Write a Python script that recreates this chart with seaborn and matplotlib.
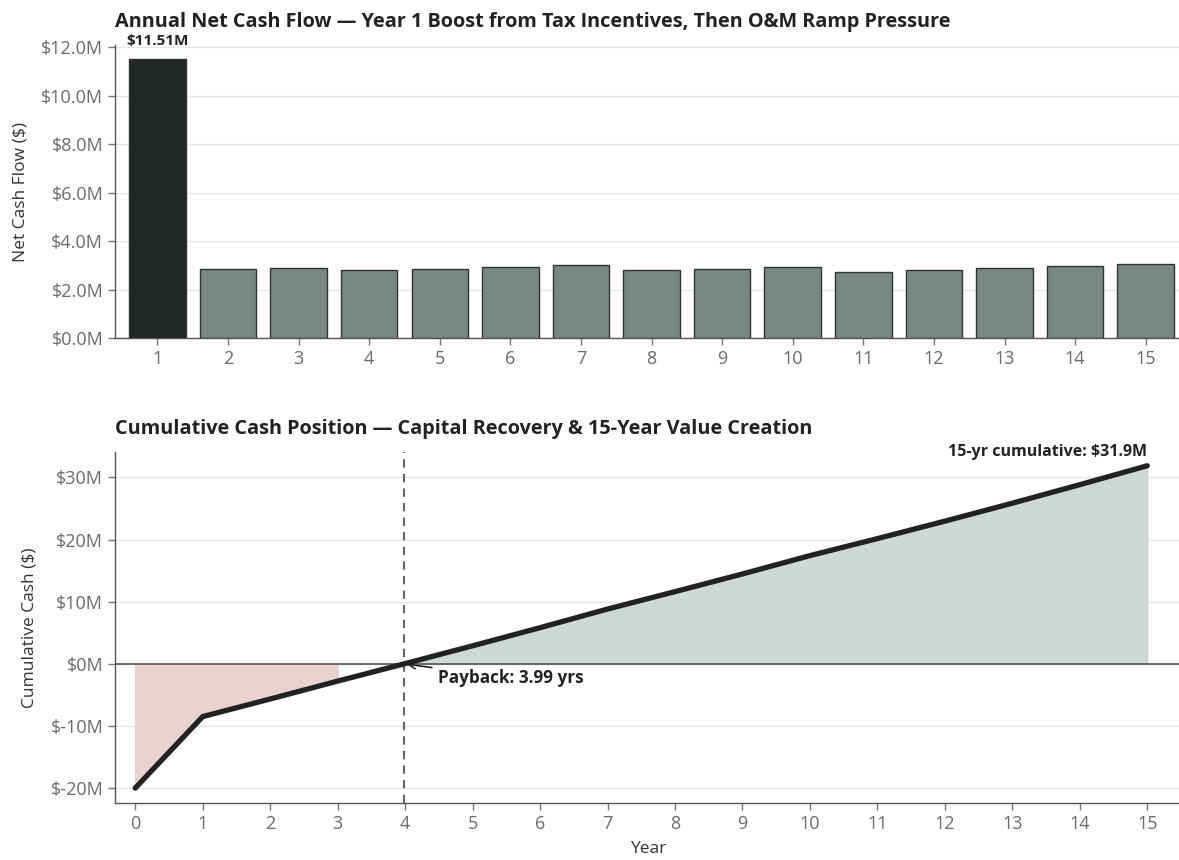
import numpy as np
import pandas as pd
import matplotlib
matplotlib.use("Agg")
import matplotlib.pyplot as plt
import seaborn as sns
from matplotlib.ticker import FuncFormatter

# Project cash flows ($M)
years = list(range(1, 16))
net_cash_flow = [11.51, 2.83, 2.88, 2.82, 2.86, 2.92, 3.00, 2.80,
                 2.85, 2.95, 2.74, 2.81, 2.89, 2.98, 3.05]
initial_investment = -20.0

sns.set_theme(style="ticks")
plt.rcParams["font.family"] = ["Open Sans", "DejaVu Sans"]

TICK_GREY = "#6b6b6b"
DARK = "#222628"
BAR = "#768a87"

fig = plt.figure(figsize=(11.79, 8.6), dpi=100)
ax1 = fig.add_axes([115 / 1179, 1 - 338 / 860, 1066 / 1179, (338 - 45) / 860])
ax2 = fig.add_axes([115 / 1179, 1 - 803 / 860, 1066 / 1179, (803 - 452) / 860])

# ---- Annual net cash flow bars ----
df = pd.DataFrame({"Year": [str(y) for y in years], "Net": net_cash_flow})
palette = [DARK] + [BAR] * (len(years) - 1)
sns.barplot(data=df, x="Year", y="Net", hue="Year", palette=palette,
            legend=False, width=0.8, edgecolor="#2e3335", linewidth=1.0,
            ax=ax1, zorder=3)
ax1.set_xlim(-0.6, 14.5)
ax1.set_ylim(0, 12.1)
ax1.set_yticks(np.arange(0, 12.1, 2))
ax1.yaxis.set_major_formatter(FuncFormatter(lambda v, p: f"${v:.1f}M"))
ax1.grid(axis="y", color="#e4e7e7", linewidth=1.0, zorder=0)
ax1.set_axisbelow(True)
ax1.set_xlabel("")
ax1.set_ylabel("Net Cash Flow ($)", fontsize=12.5, color="#333333", labelpad=9)
ax1.set_title("Annual Net Cash Flow — Year 1 Boost from Tax Incentives, Then O&M Ramp Pressure",
              loc="left", fontsize=14.3, fontweight="bold", color="#222222", pad=13)
ax1.text(0, net_cash_flow[0] + 0.45, f"${net_cash_flow[0]:.2f}M", ha="center",
         va="bottom", fontsize=11, fontweight="bold", color="#222222", clip_on=False)

# ---- Cumulative cash position ----
cum_years = np.arange(0, 16)
cumulative = np.cumsum([initial_investment] + net_cash_flow)
cdf = pd.DataFrame({"Year": cum_years, "Cumulative": cumulative})

neg = cumulative < 0
ax2.fill_between(cum_years, cumulative, 0, where=neg, color="#e8d2d2", zorder=1)
ax2.fill_between(cum_years, cumulative, 0, where=~neg, color="#cfd8d7", zorder=1)
ax2.axhline(0, color="#555555", linewidth=1.2, zorder=2)
sns.lineplot(data=cdf, x="Year", y="Cumulative", color="#222222",
             linewidth=3.8, ax=ax2, zorder=4)

# Payback by linear interpolation in the year the balance turns positive
k = int(np.argmax(cumulative >= 0))
payback = (k - 1) + (-cumulative[k - 1]) / net_cash_flow[k - 1]
ax2.axvline(payback, color="#666666", linestyle=(0, (4, 3)), linewidth=1.5, zorder=3)
ax2.annotate(f"Payback: {payback:.2f} yrs", xy=(payback, 0),
             xytext=(payback + 0.5, -2.3), ha="left", va="center",
             fontsize=12.3, fontweight="bold", color="#222222",
             arrowprops=dict(arrowstyle="->", color="#222222", lw=1.2))
ax2.text(15, cumulative[-1] + 1.0, f"15-yr cumulative: ${cumulative[-1]:.1f}M",
         ha="right", va="bottom", fontsize=11.5, fontweight="bold", color="#222222")

ax2.set_xlim(-0.3, 15.5)
ax2.set_ylim(-22.4, 34.1)
ax2.set_xticks(cum_years)
ax2.set_yticks([-20, -10, 0, 10, 20, 30])
ax2.yaxis.set_major_formatter(FuncFormatter(lambda v, p: f"${v:.0f}M"))
ax2.grid(axis="y", color="#e4e7e7", linewidth=1.0, zorder=0)
ax2.set_axisbelow(True)
ax2.set_xlabel("Year", fontsize=12.5, color="#333333", labelpad=6)
ax2.set_ylabel("Cumulative Cash ($)", fontsize=12.5, color="#333333", labelpad=9)
ax2.set_title("Cumulative Cash Position — Capital Recovery & 15-Year Value Creation",
              loc="left", fontsize=14.3, fontweight="bold", color="#222222", pad=13)

for ax in (ax1, ax2):
    sns.despine(ax=ax)
    for s in ("left", "bottom"):
        ax.spines[s].set_color("#555555")
        ax.spines[s].set_linewidth(1.0)
    ax.tick_params(axis="both", colors="#777777", labelcolor=TICK_GREY,
                   labelsize=13, length=5, width=1)

fig.savefig("out.png", dpi=100)
